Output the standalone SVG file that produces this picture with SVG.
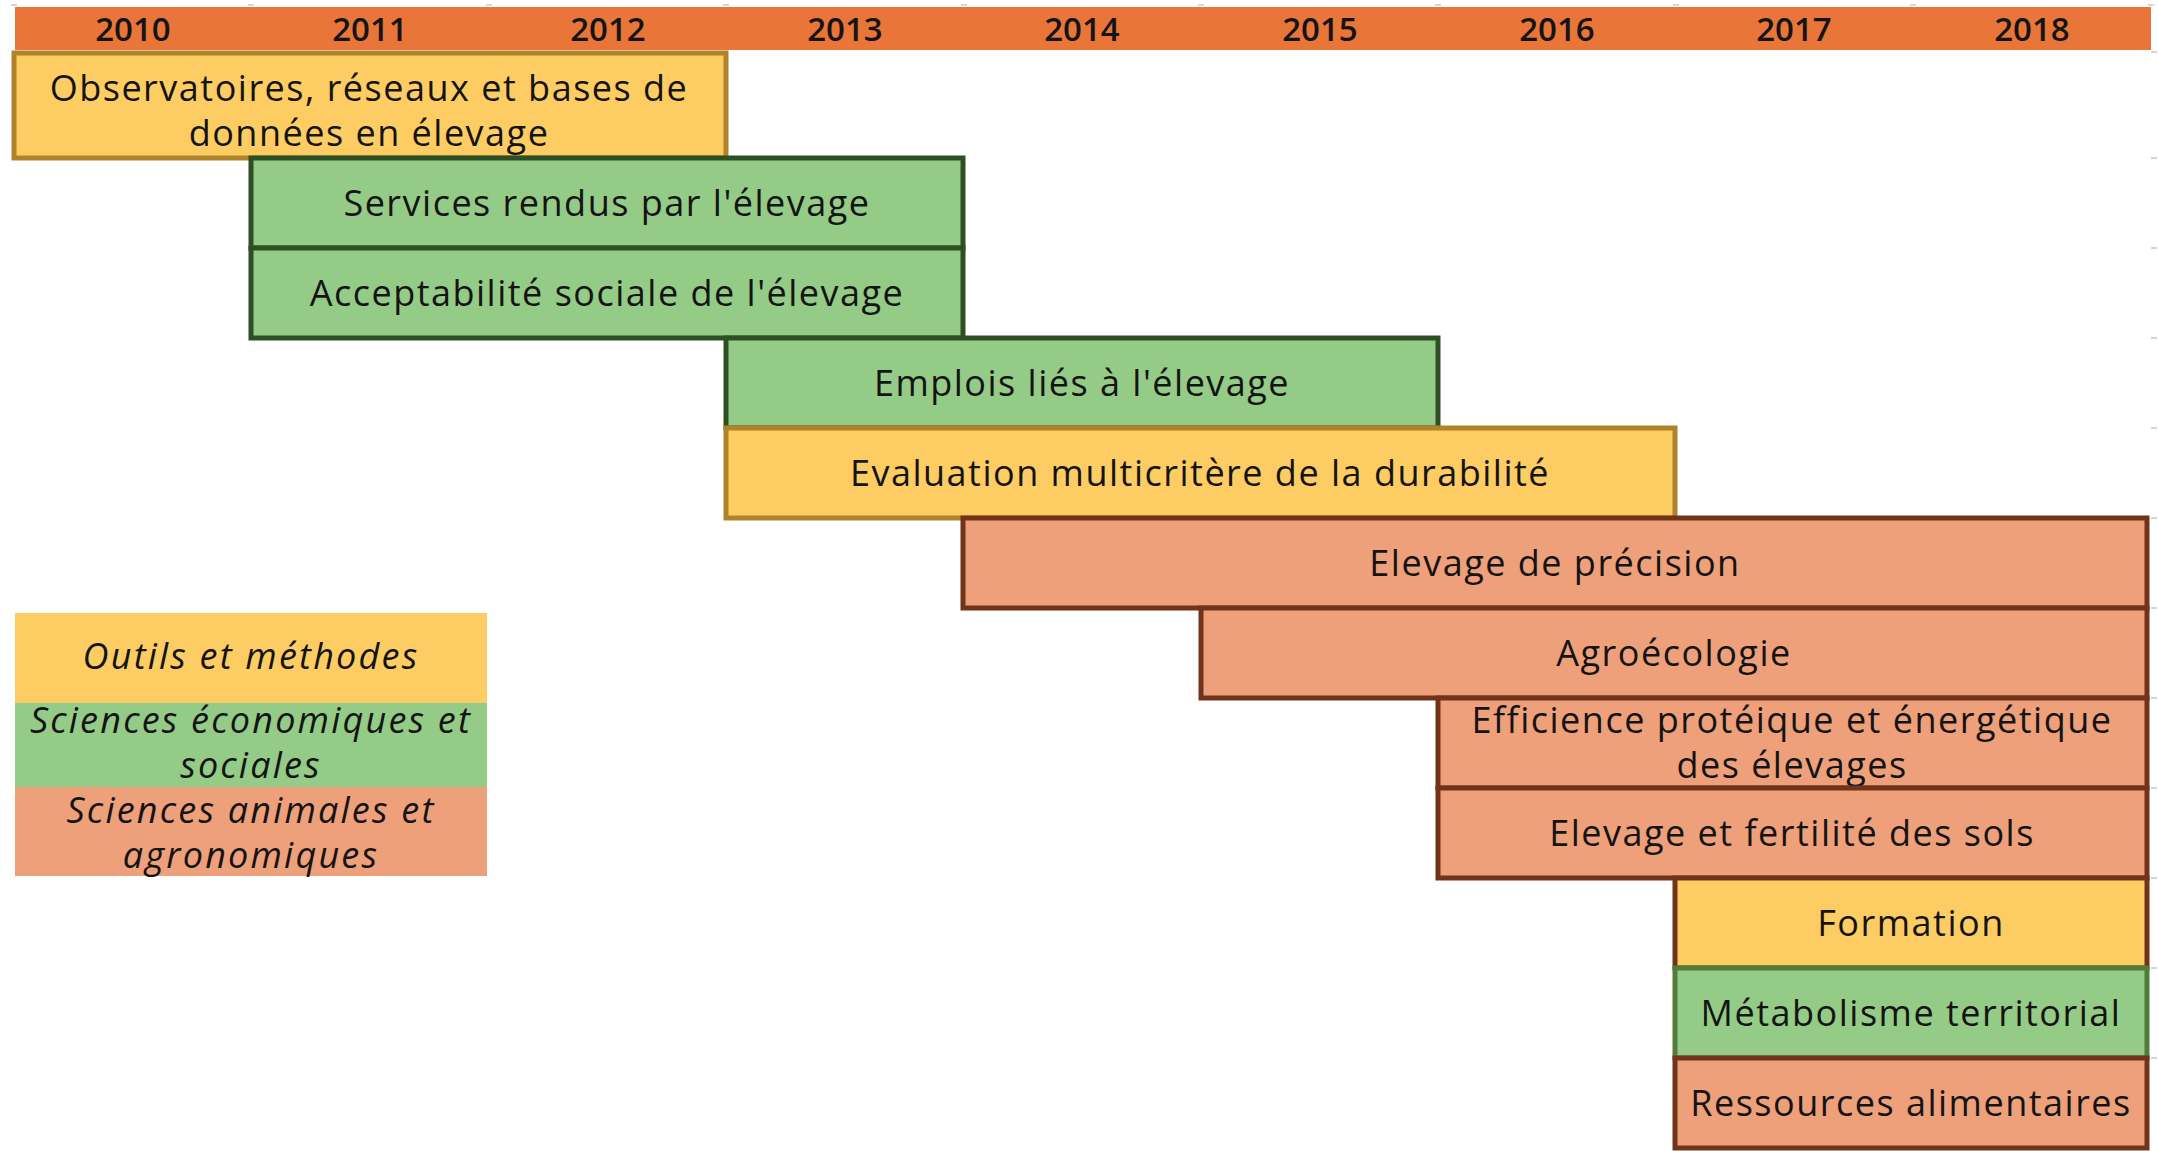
<svg xmlns="http://www.w3.org/2000/svg" width="2158" height="1151" viewBox="0 0 2158 1151">
<style>
text{font-family:"Open Sans","Noto Sans","Liberation Sans",sans-serif;fill:#141414;text-anchor:middle}
.yr{font-size:33px;font-weight:600}
.lbl{font-size:36px;letter-spacing:1.5px}
.leg{font-size:36px;font-style:italic;letter-spacing:2.2px}
.y{fill:#FDCD63;stroke:#B0822A;stroke-width:5}
.g{fill:#94CB87;stroke:#2E4F24;stroke-width:5}
.s{fill:#EEA07B;stroke:#71341A;stroke-width:5}
.tick{stroke:#C8C8C8;stroke-width:1.5}
</style>
<rect width="2158" height="1151" fill="#ffffff"/>
<g id="ticks">
<path class="tick" d="M11 5h6M248 5h6M486 5h6M723 5h6M961 5h6M1198 5h6M1435 5h6M1673 5h6M1910 5h6M2148 5h6"/>
<path class="tick" d="M2151 52h6M2151 158h6M2151 248h6M2151 338h6M2151 428h6M2151 518h6M2151 608h6M2151 698h6M2151 788h6M2151 878h6M2151 968h6M2151 1058h6"/>
</g>
<g id="header">
<rect x="15" y="7" width="2136" height="43" fill="#E97539"/>
<text class="yr" x="133" y="41">2010</text>
<text class="yr" x="370" y="41">2011</text>
<text class="yr" x="608" y="41">2012</text>
<text class="yr" x="845" y="41">2013</text>
<text class="yr" x="1082" y="41">2014</text>
<text class="yr" x="1320" y="41">2015</text>
<text class="yr" x="1557" y="41">2016</text>
<text class="yr" x="1794" y="41">2017</text>
<text class="yr" x="2032" y="41">2018</text>
</g>
<g id="legend">
<rect x="15" y="613" width="472" height="90" fill="#FDCD63"/>
<rect x="15" y="703" width="472" height="84" fill="#94CB87"/>
<rect x="15" y="787" width="472" height="89" fill="#EEA07B"/>
<text class="leg" x="251" y="669">Outils et méthodes</text>
<text class="leg" x="251" y="733">Sciences économiques et</text>
<text class="leg" x="251" y="778">sociales</text>
<text class="leg" x="251" y="823">Sciences animales et</text>
<text class="leg" x="251" y="868">agronomiques</text>
</g>
<g id="connectors"></g>
<g id="n-observatoires">
<rect class="y" x="14" y="53" width="712" height="105"/>
<text class="lbl" x="369" y="101">Observatoires, réseaux et bases de</text>
<text class="lbl" x="369" y="146">données en élevage</text>
</g>
<g id="n-services">
<rect class="g" x="251" y="158" width="712" height="90"/>
<text class="lbl" x="607" y="216">Services rendus par l'élevage</text>
</g>
<g id="n-acceptabilite">
<rect class="g" x="251" y="248" width="712" height="90"/>
<text class="lbl" x="607" y="306">Acceptabilité sociale de l'élevage</text>
</g>
<g id="n-emplois">
<rect class="g" x="726" y="338" width="712" height="90"/>
<text class="lbl" x="1082" y="396">Emplois liés à l'élevage</text>
</g>
<g id="n-evaluation">
<rect class="y" x="726" y="428" width="949" height="90"/>
<text class="lbl" x="1200" y="486">Evaluation multicritère de la durabilité</text>
</g>
<g id="n-precision">
<rect class="s" x="963" y="518" width="1184" height="90"/>
<text class="lbl" x="1555" y="576">Elevage de précision</text>
</g>
<g id="n-agroecologie">
<rect class="s" x="1201" y="608" width="946" height="90"/>
<text class="lbl" x="1674" y="666">Agroécologie</text>
</g>
<g id="n-efficience">
<rect class="s" x="1438" y="698" width="709" height="90"/>
<text class="lbl" x="1792" y="733">Efficience protéique et énergétique</text>
<text class="lbl" x="1792" y="778">des élevages</text>
</g>
<g id="n-fertilite">
<rect class="s" x="1438" y="788" width="709" height="90"/>
<text class="lbl" x="1792" y="846">Elevage et fertilité des sols</text>
</g>
<g id="n-formation">
<rect class="y" x="1675" y="878" width="472" height="90" style="stroke:#71341A"/>
<text class="lbl" x="1911" y="936">Formation</text>
</g>
<g id="n-metabolisme">
<rect class="g" x="1675" y="968" width="472" height="90" style="stroke:#507D3B"/>
<text class="lbl" x="1911" y="1026">Métabolisme territorial</text>
</g>
<g id="n-ressources">
<rect class="s" x="1675" y="1058" width="472" height="90"/>
<text class="lbl" x="1911" y="1116">Ressources alimentaires</text>
</g>
</svg>
